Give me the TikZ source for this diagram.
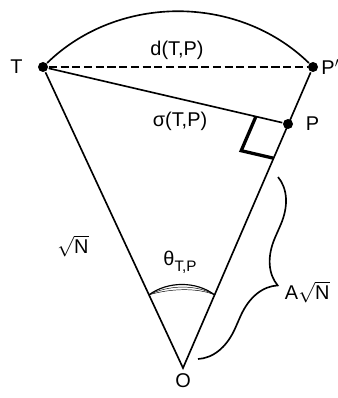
\documentclass[tikz,border=0pt]{standalone}
\usepackage{fontspec}
\setsansfont{Liberation Sans}
\usepackage{tikz}
\usetikzlibrary{decorations.pathreplacing, calc, positioning}

\begin{document}
\begin{tikzpicture}[x=0.03cm, y=-0.03cm, line width=1.4pt,
    dot/.style={circle, fill, inner sep=0pt, minimum size=0.3cm},
    lbl/.style={font=\sffamily\fontsize{17}{20}\selectfont, inner sep=1pt}]
    \useasboundingbox (0,0) rectangle (337,398);
    \node[dot] (T) at (43,67) {};
    \node[dot] (Pp) at (313,67) {};
    \node[dot] (P) at (288,124) {};
    \coordinate (O) at (183,368);
    \node[lbl, left=0.38cm of T] (tT) {T};
    \node[lbl, right=0.02cm of Pp] (tPp) {P$'$};
    \node[lbl, right=0.3cm of P] (tP) {P};
    \node[lbl, below=0.12cm of O] (tO) {O};
    % arc and chords
    \draw (T) .. controls (118,-6) and (238,-6) .. (Pp);
    \draw[line width=0.9pt, dash pattern=on 7pt off 3pt] (T) -- (Pp);
    \draw (T) -- (P);
    \draw (T) -- (O) -- (Pp);
    \node[lbl] (td) at (177,50) {d(T,P)};
    \node[lbl] (ts) at (180,121) {σ(T,P)};
    % right angle at P
    \coordinate (ra1) at ($(T)!0.869!(P)$);
    \coordinate (ra3) at ($(P)!0.14!(O)$);
    \coordinate (ra2) at ($(ra1)+(ra3)-(P)$);
    \draw[line width=2.8pt] (ra1) -- (ra2) -- (ra3);
    % angle at O
    \coordinate (thL) at ($(O)!0.243!(T)$);
    \coordinate (thR) at ($(O)!0.243!(Pp)$);
    \draw[line width=1pt] (thL) .. controls (168,281) and (196,281) .. (thR);
    \draw[line width=0.4pt] (thL) .. controls (168,285) and (196,284) .. (thR);
    \draw[line width=0.4pt] (thL) .. controls (168,289) and (196,287) .. (thR);
    \node[lbl] (tth) at (180,262) {θ\raisebox{-0.55ex}{\fontsize{13}{15}\selectfont T,P}};
    \node[lbl] (tN) at (73,246) {$\sqrt{\hbox{N}}$};
    % brace along OP
    \coordinate (b1) at (278,177);
    \coordinate (b2) at (198,359);
    \draw[decorate, decoration={brace, amplitude=1.3cm}] (b1) -- (b2);
    \node[lbl, anchor=west] (tA) at (283,292) {A$\sqrt{\hbox{N}}$};
\end{tikzpicture}
\end{document}
